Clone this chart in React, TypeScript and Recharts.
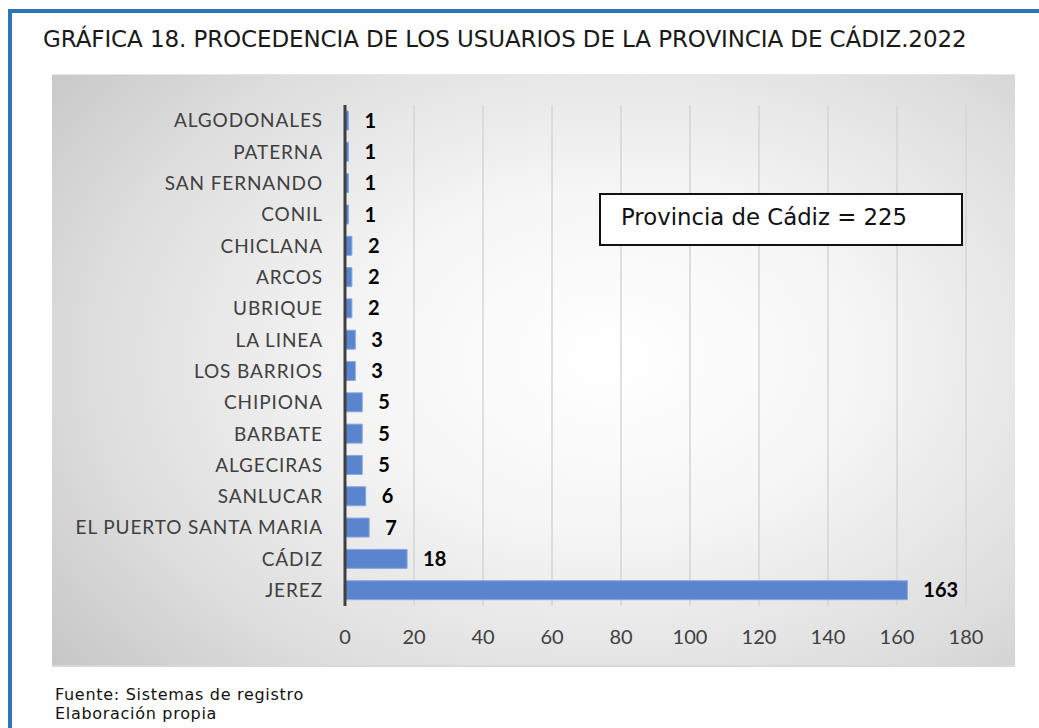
import React from 'react';
import { BarChart, Bar, XAxis, YAxis, CartesianGrid, LabelList } from 'recharts';

const categories = [
  'ALGODONALES', 'PATERNA', 'SAN FERNANDO', 'CONIL', 'CHICLANA', 'ARCOS', 'UBRIQUE',
  'LA LINEA', 'LOS BARRIOS', 'CHIPIONA', 'BARBATE', 'ALGECIRAS', 'SANLUCAR',
  'EL PUERTO SANTA MARIA', 'CÁDIZ', 'JEREZ',
];
const users = [1, 1, 1, 1, 2, 2, 2, 3, 3, 5, 5, 5, 6, 7, 18, 163];
const xTicks = [0, 20, 40, 60, 80, 100, 120, 140, 160, 180];

const title = 'GRÁFICA 18. PROCEDENCIA DE LOS USUARIOS DE LA PROVINCIA DE CÁDIZ.2022';
const boxText = 'Provincia de Cádiz = 225';
const source1 = 'Fuente: Sistemas de registro';
const source2 = 'Elaboración propia';

const data = categories.map((name, i) => ({ name, value: users[i] }));

const font = 'Lato, "Open Sans", sans-serif';

export default function App() {
  return (
    <div style={{ position: 'absolute', left: 0, top: 0, width: 1039, height: 728, background: '#fff', overflow: 'hidden', fontFamily: font }}>
      <div style={{ position: 'absolute', left: 8, top: 9, width: 1100, height: 800, borderTop: '4px solid #2E75B6', borderLeft: '4px solid #2E75B6' }} />
      <div style={{ position: 'absolute', left: 43, top: 26, fontSize: 23, color: '#1a1a1a', whiteSpace: 'nowrap', fontFamily: '"DejaVu Sans", sans-serif', letterSpacing: -0.1 }}>{title}</div>
      <div style={{
        position: 'absolute', left: 52, top: 74, width: 963, height: 593,
        background: 'radial-gradient(ellipse 78% 88% at 58% 48%, #ffffff 0%, #f6f6f6 32%, #dedede 68%, #c2c2c2 100%)',
        boxShadow: 'inset 0 1px 0 #e6e6e6, inset 0 -2px 0 #d8d8d8',
      }}>
        <BarChart
          width={963}
          height={593}
          data={data}
          layout="vertical"
          margin={{ top: 31, right: 49, bottom: 21, left: 0 }}
        >
          <CartesianGrid horizontal={false} vertical stroke="#d4d4d4" strokeWidth={1.5} />
          <XAxis
            type="number"
            domain={[0, 180]}
            ticks={xTicks}
            interval={0}
            axisLine={false}
            tickLine={false}
            tickSize={0}
            tickMargin={24}
            height={40}
            tick={{ fill: '#404040', fontSize: 20, fontFamily: font }}
          />
          <YAxis
            type="category"
            dataKey="name"
            width={293}
            interval={0}
            axisLine={{ stroke: '#404040', strokeWidth: 3 }}
            tickLine={false}
            tickSize={0}
            tickMargin={22}
            tick={{ fill: '#404040', fontSize: 19, fontFamily: font, letterSpacing: 0.9 }}
          />
          <Bar dataKey="value" barSize={19} fill="#5B84CE" stroke="#8aa8de" strokeWidth={1} isAnimationActive={false}>
            <LabelList dataKey="value" position="right" offset={16} style={{ fill: '#000', fontSize: 20, fontWeight: 700, fontFamily: font }} />
          </Bar>
        </BarChart>
      </div>
      <div style={{
        position: 'absolute', left: 599, top: 193, width: 360, height: 49, border: '2px solid #111', background: '#fff',
        boxSizing: 'content-box',
      }}>
        <div style={{ position: 'absolute', left: 20, top: 9, fontSize: 22.8, color: '#111', whiteSpace: 'nowrap', fontFamily: '"DejaVu Sans", sans-serif' }}>{boxText}</div>
      </div>
      <div style={{ position: 'absolute', left: 55, top: 685, fontSize: 16, color: '#111', lineHeight: '19px', fontFamily: '"DejaVu Sans", sans-serif', letterSpacing: 0.7 }}>
        <div>{source1}</div>
        <div>{source2}</div>
      </div>
    </div>
  );
}
